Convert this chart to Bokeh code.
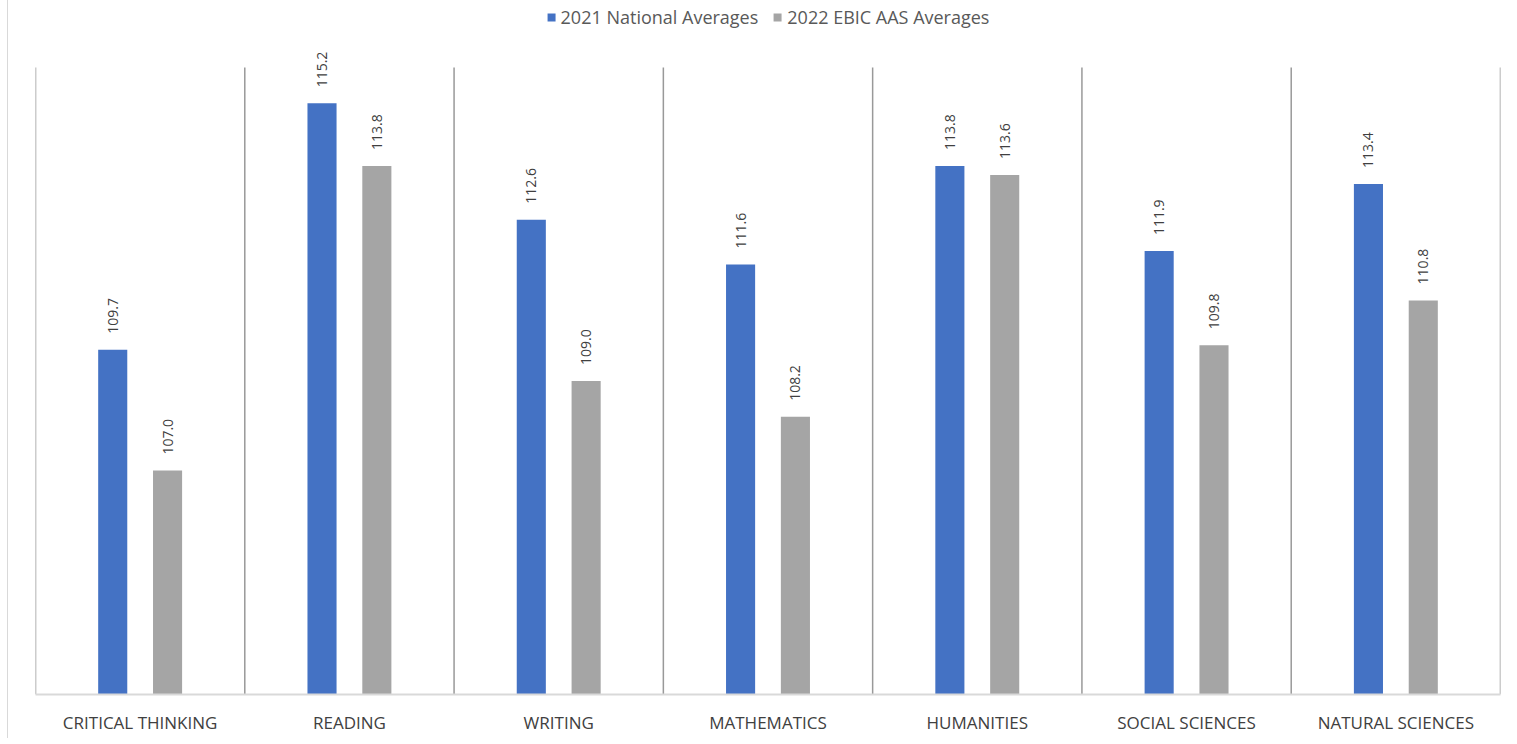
import math
from bokeh.plotting import figure
from bokeh.models import ColumnDataSource, FixedTicker, Legend, LegendItem, Range1d
from bokeh.transform import dodge
from bokeh.core.properties import value
from bokeh.embed import file_html
from bokeh.resources import INLINE

categories = ["CRITICAL THINKING", "READING", "WRITING", "MATHEMATICS",
              "HUMANITIES", "SOCIAL SCIENCES", "NATURAL SCIENCES"]
national_2021 = [109.7, 115.2, 112.6, 111.6, 113.8, 111.9, 113.4]
ebic_2022 = [107.0, 113.8, 109.0, 108.2, 113.6, 109.8, 110.8]
series_names = ["2021 National Averages", "2022 EBIC AAS Averages"]
colors = ["#4472C4", "#A5A5A5"]
y_min, y_max = 102, 116

n = len(categories)
centers = [i + 0.5 for i in range(n)]
src = ColumnDataSource(dict(
    x=centers,
    nat=national_2021,
    ebic=ebic_2022,
    nat_lbl=[f"{v:.1f}" for v in national_2021],
    ebic_lbl=[f"{v:.1f}" for v in ebic_2022],
))

# plot area: value axis spans 627 px; extra 67 px above for the legend
plot_px = 627
top_px = 67
ppu = plot_px / (y_max - y_min)
W, H = 1503, 738
p = figure(width=W, height=H, x_range=Range1d(0, n),
           y_range=Range1d(y_min, y_max + top_px / ppu),
           output_backend="svg", toolbar_location=None,
           min_border_left=27, min_border_right=11, min_border_top=0,
           min_border_bottom=H - plot_px - top_px)
p.styles = {"border-left": "1px solid #D9D9D9", "margin-left": "7px"}
p.outline_line_color = None
p.background_fill_color = "white"
p.border_fill_color = "white"

# category separators
bounds = list(range(n + 1))
p.segment(x0=bounds, y0=[y_min] * len(bounds), x1=bounds, y1=[y_max] * len(bounds),
          line_color="#999999", line_width=1.5)

off = 0.131
bw = 0.139
r1 = p.vbar(x=dodge("x", -off, range=p.x_range), top="nat", bottom=y_min, width=bw,
            source=src, fill_color=colors[0], line_color=None)
r2 = p.vbar(x=dodge("x", off, range=p.x_range), top="ebic", bottom=y_min, width=bw,
            source=src, fill_color=colors[1], line_color=None)

for col, lbl, d in (("nat", "nat_lbl", -off), ("ebic", "ebic_lbl", off)):
    p.text(x=dodge("x", d, range=p.x_range), y=col, text=lbl, source=src,
           angle=math.pi / 2, text_align="left", text_baseline="middle",
           y_offset=-16, text_font=value("Open Sans"), text_font_size="14px",
           text_color="#404040")

# axes
p.yaxis.visible = False
p.ygrid.visible = False
p.xgrid.visible = False
p.xaxis.ticker = FixedTicker(ticks=centers)
p.xaxis.major_label_overrides = {c: nm for c, nm in zip(centers, categories)}
p.xaxis.axis_line_color = "#D9D9D9"
p.xaxis.axis_line_width = 2
p.xaxis.major_tick_line_color = None
p.xaxis.minor_tick_line_color = None
p.xaxis.major_label_text_font = "Open Sans"
p.xaxis.major_label_text_font_size = "17px"
p.xaxis.major_label_text_color = "#404040"
p.xaxis.major_label_standoff = 10

legend = Legend(items=[LegendItem(label=series_names[0], renderers=[r1]),
                       LegendItem(label=series_names[1], renderers=[r2])],
                orientation="horizontal", location="top_center")
legend.label_text_font = "Open Sans"
legend.label_text_font_size = "18px"
legend.label_text_color = "#595959"
legend.glyph_width = 10
legend.glyph_height = 10
legend.spacing = 14
legend.label_standoff = 5
legend.border_line_color = None
legend.background_fill_alpha = 0
legend.padding = 0
legend.margin = 5
p.add_layout(legend)

open("out.html", "w").write(file_html(p, INLINE))
